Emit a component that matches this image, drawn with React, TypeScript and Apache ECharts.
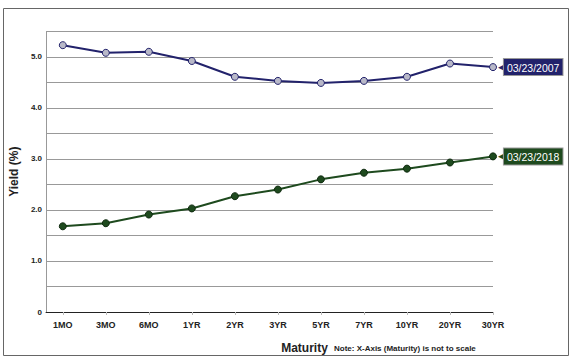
import React, { useEffect, useRef } from "react";
import * as echarts from "echarts";

const categories = ["1MO", "3MO", "6MO", "1YR", "2YR", "3YR", "5YR", "7YR", "10YR", "20YR", "30YR"];
const yield2007 = [5.23, 5.08, 5.1, 4.92, 4.61, 4.53, 4.49, 4.53, 4.61, 4.87, 4.8];
const yield2018 = [1.68, 1.74, 1.91, 2.03, 2.27, 2.4, 2.6, 2.73, 2.81, 2.93, 3.05];
const yTickLabels = [0, 1, 2, 3, 4, 5];
const label2007 = "03/23/2007";
const label2018 = "03/23/2018";

const FONT = "Liberation Sans, Arial, sans-serif";

export default function App() {
  const ref = useRef<HTMLDivElement>(null);
  useEffect(() => {
    if (!ref.current) return;
    const chart = echarts.init(ref.current, null, { renderer: "svg" });
    const idx = categories.map((_, i) => i);
    const mkLabel = (name: string, color: string) => ({
      show: true,
      distance: 5,
      formatter: "{a|◀}{b|" + name + "}",
      rich: {
        a: { color, fontSize: 9, padding: [0, -1, 0, 0], fontFamily: "DejaVu Sans" },
        b: {
          color: "#fff",
          backgroundColor: color,
          borderColor: "#999",
          borderWidth: 1,
          padding: [3, 3, 2, 3],
          fontSize: 10.5,
          fontFamily: FONT,
        },
      },
    });
    chart.setOption({
      animation: false,
      backgroundColor: "#fff",
      grid: { left: 42, right: 79, top: 31.4, bottom: 46, containLabel: false },
      graphic: [
        {
          type: "rect",
          shape: { x: 3.5, y: 8.5, width: 565, height: 347 },
          style: { fill: "none", stroke: "#666", lineWidth: 1 },
          silent: true,
        },
        {
          type: "text",
          left: 334,
          top: 344,
          style: {
            text: "Note: X-Axis (Maturity) is not to scale",
            fontSize: 8,
            fontWeight: "bold",
            fontFamily: FONT,
            fill: "#222",
          },
        },
      ],
      xAxis: {
        type: "value",
        min: -0.39,
        max: 10,
        name: "Maturity",
        nameLocation: "middle",
        nameGap: 30,
        nameTextStyle: { fontSize: 12, fontWeight: "bold", fontFamily: FONT, color: "#222", padding: [0, 0, 0, 70] },
        axisLine: { show: true, onZero: false, lineStyle: { color: "#222", width: 1 } },
        axisTick: { show: true, customValues: idx, length: 3, lineStyle: { color: "#bbb" } },
        axisLabel: {
          customValues: idx,
          formatter: (v: number) => categories[Math.round(v)],
          fontSize: 9,
          fontWeight: "bold",
          fontFamily: FONT,
          color: "#222",
          margin: 8,
        },
        splitLine: { show: false },
      },
      yAxis: {
        type: "value",
        min: 0,
        max: 5.5,
        interval: 0.5,
        name: "Yield (%)",
        nameLocation: "middle",
        nameGap: 23,
        nameTextStyle: { fontSize: 12, fontWeight: "bold", fontFamily: FONT, color: "#222" },
        axisLine: { show: true, onZero: false, lineStyle: { color: "#999" } },
        axisTick: { show: false },
        axisLabel: {
          fontSize: 8,
          fontWeight: "bold",
          fontFamily: FONT,
          color: "#222",
          margin: 4,
          formatter: (v: number) => {
            if (Math.abs(v - Math.round(v)) > 1e-6) return "";
            if (!yTickLabels.includes(Math.round(v))) return "";
            return v === 0 ? "0" : v.toFixed(1);
          },
        },
        splitLine: { show: true, lineStyle: { color: "#999", width: 1 } },
      },
      series: [
        {
          type: "line",
          name: label2007,
          data: yield2007.map((v, i) => [i, v]),
          symbol: "circle",
          symbolSize: 7,
          lineStyle: { color: "#22226b", width: 2 },
          itemStyle: { color: "#b8b8c8", borderColor: "#22226b", borderWidth: 1 },
          endLabel: mkLabel(label2007, "#22226b"),
        },
        {
          type: "line",
          name: label2018,
          data: yield2018.map((v, i) => [i, v]),
          symbol: "circle",
          symbolSize: 7,
          lineStyle: { color: "#1e4a1e", width: 2 },
          itemStyle: { color: "#1e4a1e", borderColor: "#0f2a0f", borderWidth: 1 },
          endLabel: mkLabel(label2018, "#1e4a1e"),
        },
      ],
    });
    return () => chart.dispose();
  }, []);
  return (
    <div
      ref={ref}
      style={{ position: "absolute", left: 0, top: 0, width: 572, height: 359 }}
    />
  );
}
